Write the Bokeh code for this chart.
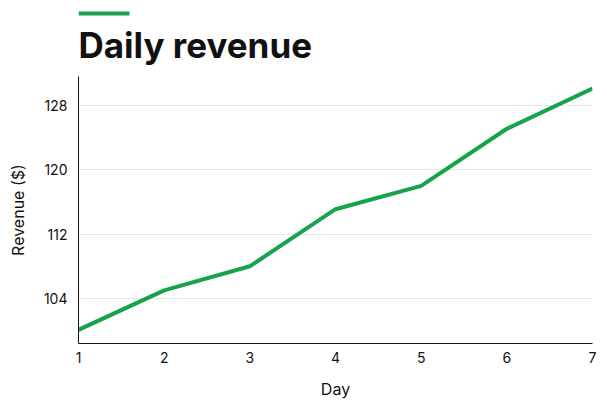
from bokeh.plotting import figure
from bokeh.layouts import column
from bokeh.models import Range1d, FixedTicker
from bokeh.core.properties import value
from bokeh.embed import file_html
from bokeh.resources import INLINE

days = [1, 2, 3, 4, 5, 6, 7]
revenue = [100.1, 105.0, 108.0, 115.1, 118.0, 125.1, 130.1]
y_ticks = [104, 112, 120, 128]
title_text = "Daily revenue"
x_label = "Day"
y_label = "Revenue ($)"

FONT = "Inter"
GREEN = "#16a34a"
W = 607
HEAD_H = 76
LEFT, RIGHT = 78, 15

# header: accent bar + title in pixel coordinates (y downward); the column
# aligns this frame with the chart's frame (canvas x 78..592)
head = figure(width=W, height=HEAD_H, output_backend="svg", toolbar_location=None,
              x_range=Range1d(LEFT, W - RIGHT), y_range=Range1d(HEAD_H, 0),
              x_axis_type=None, y_axis_type=None,
              min_border_left=LEFT, min_border_right=RIGHT,
              min_border_top=0, min_border_bottom=0)
head.outline_line_color = None
head.grid.grid_line_color = None
head.quad(left=[78], right=[129], top=[11], bottom=[15], fill_color=GREEN, line_color=None)
head.text(x=[78], y=[44], text=[title_text], text_font=value(FONT), text_font_size="35px",
          text_font_style="bold", text_color="#111111", text_baseline="middle",
          text_align="left")

p = figure(width=W, height=410 - HEAD_H, output_backend="svg", toolbar_location=None,
           x_range=Range1d(1, 7), y_range=Range1d(98.4, 131.6),
           min_border_left=LEFT, min_border_right=RIGHT, min_border_top=0, min_border_bottom=67)
p.outline_line_color = None
p.background_fill_color = "white"

p.line(days, revenue, line_color=GREEN, line_width=4)

p.xgrid.grid_line_color = None
p.ygrid.grid_line_color = "#e6e6e6"
p.ygrid.grid_line_width = 1

p.xaxis.ticker = FixedTicker(ticks=days)
p.yaxis.ticker = FixedTicker(ticks=y_ticks)
for ax in (p.xaxis[0], p.yaxis[0]):
    ax.major_tick_line_color = None
    ax.minor_tick_line_color = None
    ax.major_tick_out = 0
    ax.major_tick_in = 0
    ax.axis_line_color = "#111111"
    ax.axis_line_width = 1
    ax.major_label_text_font = FONT
    ax.major_label_text_font_size = "14px"
    ax.major_label_text_color = "#111111"
    ax.axis_label_text_font = FONT
    ax.axis_label_text_font_size = "16px"
    ax.axis_label_text_font_style = "normal"
    ax.axis_label_text_color = "#111111"
p.xaxis.axis_label = x_label
p.yaxis.axis_label = y_label
p.xaxis.major_label_standoff = 8
p.yaxis.major_label_standoff = 11
p.xaxis.axis_label_standoff = 13
p.yaxis.axis_label_standoff = 13

layout = column(head, p, spacing=0)
open("out.html", "w").write(file_html(layout, INLINE))
